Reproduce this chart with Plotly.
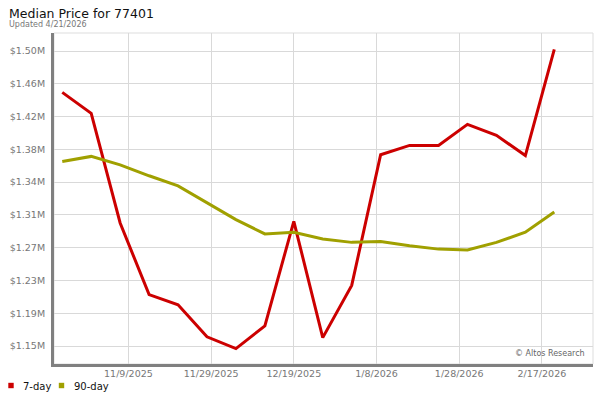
import plotly.graph_objects as go

# ---------------- data ----------------
dates = ["2025-10-24", "2025-10-31", "2025-11-07", "2025-11-14", "2025-11-21",
         "2025-11-28", "2025-12-05", "2025-12-12", "2025-12-19", "2025-12-26",
         "2026-01-02", "2026-01-09", "2026-01-16", "2026-01-23", "2026-01-30",
         "2026-02-06", "2026-02-13", "2026-02-20"]
series_names = ["7-day", "90-day"]
price_7day = [1.451, 1.426, 1.296, 1.211, 1.199, 1.161, 1.147, 1.174, 1.298,
              1.160, 1.222, 1.377, 1.388, 1.388, 1.413, 1.400, 1.376, 1.502]
price_90day = [1.369, 1.375, 1.365, 1.352, 1.340, 1.320, 1.300, 1.283, 1.285,
               1.277, 1.273, 1.274, 1.269, 1.265, 1.264, 1.273, 1.285, 1.309]

y_tick_vals = [1.15 + i * 0.35 / 9 for i in range(10)]
y_tick_text = ["$1.15M", "$1.19M", "$1.23M", "$1.27M", "$1.31M",
               "$1.34M", "$1.38M", "$1.42M", "$1.46M", "$1.50M"]
x_tick_vals = ["2025-11-09", "2025-11-29", "2025-12-19", "2026-01-08",
               "2026-01-28", "2026-02-17"]
x_tick_text = ["11/9/2025", "11/29/2025", "12/19/2025", "1/8/2026",
               "1/28/2026", "2/17/2026"]

title_text = "Median Price for 77401"
subtitle_text = "Updated 4/21/2026"
credit_text = "© Altos Research"

colors = ["#cc0000", "#a0a000"]

# ---------------- layout geometry ----------------
W_FIG, H_FIG = 600, 400
L, R, T, B = 54, 7, 33, 36
PW = W_FIG - L - R
PH = H_FIG - T - B


def px_x(px):
    return (px - L) / PW


def px_y(py):
    return (H_FIG - B - py) / PH


FONT = "DejaVu Sans, Verdana, sans-serif"

fig = go.Figure()
for name, vals, col in zip(series_names, [price_7day, price_90day], colors):
    fig.add_trace(go.Scatter(
        x=dates, y=vals, mode="lines", name=name,
        line=dict(color=col, width=3),
        showlegend=False,
        hovertemplate="%{x}<br>$%{y:.3f}M<extra>" + name + "</extra>",
    ))

annotations = [
    dict(text=title_text, x=px_x(7), y=px_y(13), xref="paper", yref="paper",
         xanchor="left", yanchor="middle", showarrow=False,
         font=dict(family=FONT, size=12.5, color="#111111")),
    dict(text=subtitle_text, x=px_x(7), y=px_y(24.5), xref="paper", yref="paper",
         xanchor="left", yanchor="middle", showarrow=False,
         font=dict(family=FONT, size=8, color="#777777")),
    dict(text=credit_text, x=px_x(587), y=px_y(353), xref="paper", yref="paper",
         xanchor="right", yanchor="middle", showarrow=False,
         font=dict(family=FONT, size=8, color="#666666")),
]
shapes = [
    dict(type="rect", xref="paper", yref="paper", x0=0, x1=1, y0=0, y1=1,
         line=dict(color="#dddddd", width=1), layer="below"),
]

# legend built as squares + labels
legend_pos = [(11, 21), (61.5, 72)]
for (sq_cx, tx), name, col in zip(legend_pos, series_names, colors):
    shapes.append(dict(type="rect", xref="paper", yref="paper",
                       x0=px_x(sq_cx - 2.7), x1=px_x(sq_cx + 2.7),
                       y0=px_y(388.2), y1=px_y(382.8),
                       fillcolor=col, line=dict(width=0)))
    annotations.append(dict(text=name, x=px_x(tx), y=px_y(386), xref="paper",
                            yref="paper", xanchor="left", yanchor="middle",
                            showarrow=False,
                            font=dict(family=FONT, size=10, color="#111111")))

fig.update_layout(
    width=W_FIG, height=H_FIG,
    margin=dict(l=L, r=R, t=T, b=B, pad=0, autoexpand=False),
    paper_bgcolor="white", plot_bgcolor="white",
    font=dict(family=FONT),
    showlegend=False,
    annotations=annotations,
    shapes=shapes,
    xaxis=dict(
        type="date", automargin=False,
        range=["2025-10-22 00:00", "2026-03-01 08:40"],
        tickmode="array", tickvals=x_tick_vals, ticktext=x_tick_text,
        showgrid=True, gridcolor="#d9d9d9", gridwidth=1,
        showline=True, linecolor="#808080", linewidth=3,
        ticks="", tickfont=dict(family=FONT, size=9.5, color="#777777"),
        ticklabelstandoff=-1,
        zeroline=False, fixedrange=True,
    ),
    yaxis=dict(
        automargin=False,
        range=[1.1287, 1.5214],
        tickmode="array", tickvals=y_tick_vals, ticktext=y_tick_text,
        showgrid=True, gridcolor="#d9d9d9", gridwidth=1,
        showline=True, linecolor="#808080", linewidth=3,
        ticks="", tickfont=dict(family=FONT, size=9.5, color="#777777"),
        ticklabelstandoff=4,
        zeroline=False, fixedrange=True,
    ),
)

fig.write_html(
    "out.html",
    config={"displayModeBar": False},
    post_script="document.body.style.margin='0';document.body.style.overflow='hidden';",
)
